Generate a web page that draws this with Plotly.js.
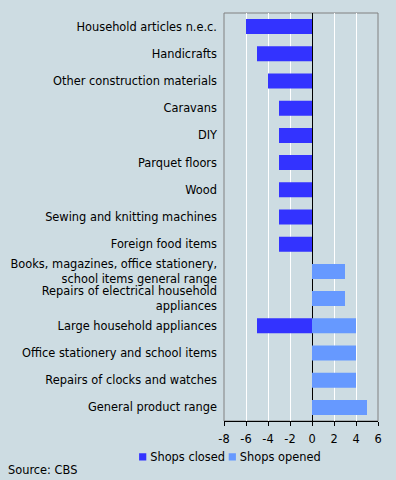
<!DOCTYPE html>
<html><head><meta charset="utf-8">
<script src="https://cdn.plot.ly/plotly-3.0.1.min.js"></script>
<style>html,body{margin:0;padding:0;background:#cddce2;}#chart{width:396px;height:480px;}</style>
</head><body><div id="chart"></div>
<script>
const categories = [
  "Household articles n.e.c.",
  "Handicrafts",
  "Other construction materials",
  "Caravans",
  "DIY",
  "Parquet floors",
  "Wood",
  "Sewing and knitting machines",
  "Foreign food items",
  "Books, magazines, office stationery,<br>school items general range",
  "Repairs of electrical household<br>appliances",
  "Large household appliances",
  "Office stationery and school items",
  "Repairs of clocks and watches",
  "General product range"
];
const shopsClosed = [-6, -5, -4, -3, -3, -3, -3, -3, -3, null, null, -5, null, null, null];
const shopsOpened = [null, null, null, null, null, null, null, null, null, 3, 3, 4, 4, 4, 5];
const xTicks = [-8, -6, -4, -2, 0, 2, 4, 6];

const font = {family: "DejaVu Sans, Verdana, sans-serif", size: 11.4, color: "#000"};
const data = [
  {type: "bar", orientation: "h", name: "Shops closed", y: categories, x: shopsClosed,
   marker: {color: "#3333ff"}, width: 0.55, legend: "legend"},
  {type: "bar", orientation: "h", name: "Shops opened", y: categories, x: shopsOpened,
   marker: {color: "#6699ff"}, width: 0.55, legend: "legend2"}
];
const legendBase = {orientation: "h", y: -0.088, xanchor: "left", yanchor: "middle",
                    font: font, bgcolor: "rgba(0,0,0,0)", itemwidth: 30};
const layout = {
  width: 396, height: 480,
  paper_bgcolor: "#cddce2", plot_bgcolor: "#cddce2",
  font: font,
  barmode: "relative",
  margin: {l: 224, r: 18, t: 13, b: 59, autoexpand: false},
  showlegend: true,
  legend: Object.assign({x: -0.739}, legendBase),
  legend2: Object.assign({x: -0.157}, legendBase),
  xaxis: {range: [-8, 6], tickvals: xTicks, ticktext: xTicks.map(String),
          showgrid: true, gridcolor: "#ffffff", gridwidth: 1,
          zeroline: true, zerolinecolor: "#000", zerolinewidth: 1,
          showline: true, linecolor: "#000", linewidth: 1,
          ticks: "outside", ticklen: 4, tickcolor: "#000", ticklabelstandoff: 3, fixedrange: true},
  yaxis: {autorange: "reversed", showgrid: false, zeroline: false, showline: false,
          ticks: "", ticklabelstandoff: 6, fixedrange: true},
  shapes: [{type: "rect", xref: "paper", yref: "paper", x0: 0, x1: 1, y0: 0, y1: 1,
            line: {color: "#808080", width: 1}, layer: "below"}],
  annotations: [{text: "Source: CBS", xref: "paper", yref: "paper", x: -1.418, y: -0.12,
                 xanchor: "left", yanchor: "middle", showarrow: false, font: font}]
};
function compactLegendSymbols(gd) {
  // compact square legend symbols placed just before their labels (text starts at x=40)
  gd.querySelectorAll("g.traces").forEach(function (tr) {
    const g = tr.querySelector("g.layers");
    if (!g) return;
    const bb = g.getBBox();
    let cx = 20, cy = 0;
    if (bb.width) { cx = bb.x + bb.width / 2; cy = bb.y + bb.height / 2; }
    const s = 0.6;
    const ncx = 32.5;
    g.setAttribute("transform", "translate(" + (ncx - s * cx) + "," + (cy - s * cy) + ") scale(" + s + ")");
  });
}
const gdEl = document.getElementById("chart");
Plotly.newPlot(gdEl, data, layout, {displayModeBar: false, staticPlot: true}).then(function (gd) {
  compactLegendSymbols(gd);
  setTimeout(function () { compactLegendSymbols(gd); }, 0);
  gd.on("plotly_afterplot", function () { compactLegendSymbols(gd); });
});
</script></body></html>
